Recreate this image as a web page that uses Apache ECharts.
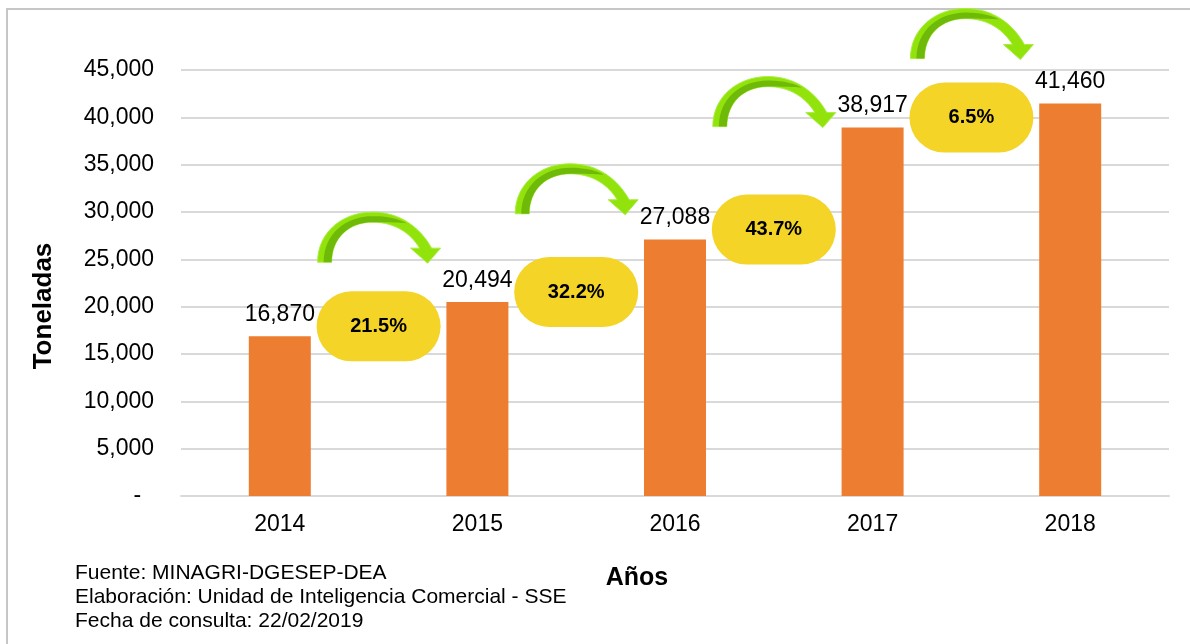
<!DOCTYPE html>
<html>
<head>
<meta charset="utf-8">
<script src="https://cdn.jsdelivr.net/npm/echarts@6/dist/echarts.min.js"></script>
<style>
html,body{margin:0;padding:0;background:#fff;}
#chart{width:1190px;height:644px;}
</style>
</head>
<body>
<div id="chart"></div>
<script>
var years = ['2014', '2015', '2016', '2017', '2018'];
var toneladas = [16870, 20494, 27088, 38917, 41460];
var growthLabels = ['21.5%', '32.2%', '43.7%', '6.5%'];
var yTicks = { min: 0, max: 45000, interval: 5000 };
var yAxisName = 'Toneladas';
var xAxisName = 'Años';
var footerLines = [
  'Fuente: MINAGRI-DGESEP-DEA',
  'Elaboración: Unidad de Inteligencia Comercial - SSE',
  'Fecha de consulta: 22/02/2019'
];

var FONT = '"Liberation Sans", Arial, sans-serif';
var chart = echarts.init(document.getElementById('chart'));

function fmt(v) {
  if (v === 0) return '-  ';
  return v.toLocaleString('en-US');
}

var option = {
  backgroundColor: '#ffffff',
  animation: false,
  grid: { left: 181, right: 21, top: 70, bottom: 148 },
  xAxis: {
    type: 'category',
    data: years,
    axisLine: { lineStyle: { color: '#D9D9D9', width: 2 } },
    axisTick: { show: false },
    axisLabel: { color: '#000', fontSize: 23, fontFamily: FONT, margin: 17 }
  },
  yAxis: {
    type: 'value',
    min: yTicks.min,
    max: yTicks.max,
    interval: yTicks.interval,
    axisLine: { show: false },
    axisTick: { show: false },
    splitLine: { lineStyle: { color: '#D9D9D9', width: 2 } },
    axisLabel: { color: '#000', fontSize: 23, fontFamily: FONT, margin: 27, formatter: fmt }
  },
  series: [{
    type: 'bar',
    data: toneladas,
    barWidth: 62,
    itemStyle: { color: '#ED7D31' },
    label: {
      show: true,
      position: 'top',
      distance: 10,
      color: '#000',
      fontSize: 23,
      fontFamily: FONT,
      formatter: function (p) { return fmt(p.value); }
    }
  }]
};
chart.setOption(option);

// arrow outline as segments: ['M',x,y] ['C',c1x,c1y,c2x,c2y,x,y] ['L',x,y]
var arrowOuterCmds = [
  ['M', -61, 0],
  ['C', -61, -30, -36, -50, -6, -50],
  ['C', 22, -50, 42, -34, 53, -14],
  ['L', 62, -14], ['L', 49, 1], ['L', 32, -14], ['L', 41, -14],
  ['C', 32, -29, 16, -40, -6, -40],
  ['C', -30, -40, -47, -24, -47, 0]
];
var arrowShadeCmds = [
  ['M', -55, 0],
  ['C', -55, -28, -33, -46, -6, -46],
  ['C', 8, -46, 18, -44, 28, -39],
  ['C', 16, -40, 6, -40, -6, -40],
  ['C', -30, -40, -47, -24, -47, 0]
];
function sample(cmds, ox, oy) {
  var pts = [], cur = [0, 0];
  cmds.forEach(function (c) {
    if (c[0] === 'M' || c[0] === 'L') {
      cur = [c[1], c[2]];
      pts.push([ox + cur[0], oy + cur[1]]);
    } else {
      var x0 = cur[0], y0 = cur[1];
      for (var s = 1; s <= 16; s++) {
        var t = s / 16, u = 1 - t;
        var x = u*u*u*x0 + 3*u*u*t*c[1] + 3*u*t*t*c[3] + t*t*t*c[5];
        var y = u*u*u*y0 + 3*u*u*t*c[2] + 3*u*t*t*c[4] + t*t*t*c[6];
        pts.push([ox + x, oy + y]);
      }
      cur = [c[5], c[6]];
    }
  });
  return pts;
}

var graphics = [];
graphics.push({ type: 'line', shape: { x1: 6, y1: 9, x2: 1190, y2: 9 }, style: { stroke: '#C6C6C6', lineWidth: 2 } });
graphics.push({ type: 'line', shape: { x1: 7, y1: 9, x2: 7, y2: 644 }, style: { stroke: '#C6C6C6', lineWidth: 2 } });

for (var i = 0; i < growthLabels.length; i++) {
  var p0 = chart.convertToPixel({ gridIndex: 0 }, [i, toneladas[i]]);
  var p1 = chart.convertToPixel({ gridIndex: 0 }, [i + 1, toneladas[i + 1]]);
  var cx = (p0[0] + p1[0]) / 2;
  var pillY = p0[1] - 10;
  var avgY = chart.convertToPixel({ gridIndex: 0 }, [i, (toneladas[i] + toneladas[i + 1]) / 2])[1];
  var footY = avgY - 57;
  graphics.push({
    type: 'rect',
    shape: { x: cx - 62, y: pillY - 35, width: 124, height: 70, r: 35 },
    style: { fill: '#F3D427' },
    z: 100
  });
  graphics.push({
    type: 'text',
    x: cx, y: pillY,
    style: { text: growthLabels[i], fill: '#000', font: 'bold 20px ' + FONT, textAlign: 'center', textVerticalAlign: 'middle' },
    z: 101
  });
  graphics.push({
    type: 'polygon',
    shape: { points: sample(arrowOuterCmds, cx, footY) },
    style: { fill: '#92E30C', stroke: '#A8EE40', lineWidth: 1 },
    z: 100
  });
  graphics.push({
    type: 'polygon',
    shape: { points: sample(arrowShadeCmds, cx, footY) },
    style: { fill: '#6FBA08' },
    z: 101
  });
}

graphics.push({
  type: 'text', x: 44, y: 306, rotation: Math.PI / 2,
  style: { text: yAxisName, fill: '#000', font: 'bold 26px ' + FONT, textAlign: 'center', textVerticalAlign: 'middle' }
});
graphics.push({
  type: 'text', x: 637, y: 578,
  style: { text: xAxisName, fill: '#000', font: 'bold 25px ' + FONT, textAlign: 'center', textVerticalAlign: 'middle' }
});
for (var k = 0; k < footerLines.length; k++) {
  graphics.push({
    type: 'text', x: 75, y: 573 + k * 24,
    style: { text: footerLines[k], fill: '#000', font: '21px ' + FONT, textAlign: 'left', textVerticalAlign: 'middle' }
  });
}

chart.setOption({ graphic: graphics });
</script>
</body>
</html>
